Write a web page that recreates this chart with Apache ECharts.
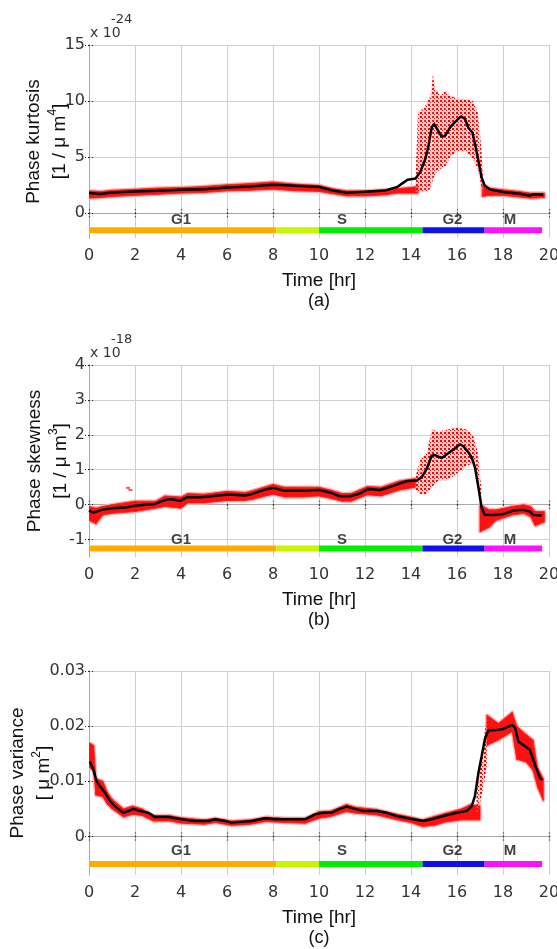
<!DOCTYPE html>
<html>
<head>
<meta charset="utf-8">
<script src="https://cdn.jsdelivr.net/npm/echarts@6/dist/echarts.min.js"></script>
<style>
  html, body { margin: 0; padding: 0; background: #fff; }
  #main { width: 557px; height: 949px; }
</style>
</head>
<body>
<div id="main"></div>
<script>
// cell cycle phases, shared by the three panels
var phaseNames = ['G1', '', 'S', 'G2', 'M'];
var phaseStart = [0, 8.15, 10, 14.5, 17.2];
var phaseEnd = [8.15, 10, 14.5, 17.2, 19.7];
var phaseLabelX = [4, null, 11, 15.8, 18.3];
var phaseColors = ['#ffab00', '#c8f500', '#00ee00', '#1010ee', '#ff10ff'];

// (a) phase kurtosis, in units of 1e-24
var kurtTicks = [0, 5, 10, 15];
var kurtMeanT = [0, 0.5, 1, 2, 3, 4, 5, 6, 7, 8, 9, 10, 10.6, 11.2, 12, 12.9, 13.4, 13.7, 13.85, 14.2, 14.4, 14.6, 14.75, 14.9, 15, 15.14, 15.33, 15.48, 15.7, 15.9, 16.17, 16.35, 16.5, 16.67, 16.78, 16.93, 17.07, 17.2, 17.43, 18, 18.75, 19.17, 19.3, 19.75];
var kurtMean = [1.8, 1.72, 1.85, 1.95, 2.0, 2.1, 2.15, 2.3, 2.4, 2.55, 2.45, 2.34, 2.04, 1.83, 1.92, 2.04, 2.34, 2.78, 3.0, 3.1, 3.67, 4.7, 5.9, 7.66, 7.96, 7.5, 6.83, 6.9, 7.66, 8.1, 8.64, 8.4, 7.6, 7.2, 6.2, 4.7, 3.2, 2.49, 2.13, 1.9, 1.75, 1.57, 1.69, 1.66];
var kurtBandT = [0, 0.5, 1, 2, 3, 4, 5, 6, 7, 8, 9, 10, 10.6, 11.2, 12, 12.9, 13.4, 14.0, 14.3, 14.35, 17.1, 17.4, 18, 18.7, 19.2, 19.8];
var kurtBandLo = [1.35, 1.4, 1.5, 1.6, 1.7, 1.8, 1.85, 2.0, 2.05, 2.15, 2.0, 1.95, 1.75, 1.55, 1.55, 1.65, 1.8, 1.8, 1.8, null, 1.5, 1.6, 1.6, 1.45, 1.35, 1.4];
var kurtBandHi = [2.0, 1.95, 2.05, 2.15, 2.25, 2.3, 2.4, 2.55, 2.65, 2.8, 2.6, 2.5, 2.2, 2.0, 2.0, 2.1, 2.2, 2.3, 2.4, null, 2.6, 2.25, 2.1, 1.95, 1.8, 1.8];
var kurtCloudT = [14.2, 14.3, 14.6, 14.85, 14.95, 15.05, 15.3, 15.5, 15.7, 16.0, 16.4, 16.7, 16.9, 17.05, 17.15];
var kurtCloudLo = [1.9, 1.9, 1.9, 2.2, 3.0, 3.5, 4.0, 4.2, 5.0, 5.5, 5.5, 4.8, 4.0, 2.5, 1.6];
var kurtCloudHi = [3.0, 9.0, 9.5, 10.5, 12.4, 11.0, 10.5, 11.0, 10.5, 10.2, 10.2, 10.0, 9.0, 6.0, 2.8];
var kurtOutT = [];
var kurtOut = [];

// (b) phase skewness, in units of 1e-18
var skewTicks = [-1, 0, 1, 2, 3, 4];
var skewMeanT = [0, 0.19, 0.55, 1.0, 1.56, 2, 2.43, 2.87, 3.3, 3.52, 3.96, 4.25, 4.9, 5.62, 6.06, 6.78, 7.07, 7.65, 8.0, 8.5, 9.25, 10, 10.48, 10.9, 11.35, 11.78, 12.14, 12.65, 13.09, 13.52, 13.8, 14.25, 14.46, 14.68, 14.9, 15.04, 15.33, 15.62, 15.9, 16.13, 16.28, 16.49, 16.64, 16.78, 16.93, 17.07, 17.2, 17.58, 18.0, 18.45, 18.88, 19.17, 19.32, 19.68];
var skewMean = [-0.17, -0.23, -0.15, -0.1, -0.08, -0.03, 0, 0.02, 0.13, 0.16, 0.11, 0.21, 0.21, 0.26, 0.29, 0.26, 0.3, 0.43, 0.48, 0.4, 0.4, 0.42, 0.35, 0.24, 0.24, 0.32, 0.45, 0.42, 0.51, 0.61, 0.67, 0.69, 0.78, 1.02, 1.4, 1.42, 1.33, 1.47, 1.61, 1.73, 1.67, 1.5, 1.35, 1.07, 0.5, -0.08, -0.29, -0.3, -0.27, -0.17, -0.15, -0.2, -0.3, -0.31];
var skewBandT = [0, 0.3, 0.6, 1, 2, 2.9, 3.3, 4.0, 4.3, 5, 6, 6.8, 7.1, 8, 8.5, 9.25, 10, 10.5, 11, 11.4, 12.1, 12.7, 13.5, 14.2, 14.3, 17.0, 17.4, 17.7, 18.4, 18.9, 19.2, 19.4, 19.8];
var skewBandLo = [-0.45, -0.55, -0.3, -0.25, -0.2, -0.1, -0.05, -0.1, 0.05, 0.05, 0.12, 0.12, 0.15, 0.3, 0.22, 0.22, 0.25, 0.18, 0.1, 0.1, 0.28, 0.25, 0.42, 0.5, null, -0.78, -0.65, -0.45, -0.3, -0.25, -0.35, -0.6, -0.5];
var skewBandHi = [-0.05, -0.1, -0.05, 0.0, 0.1, 0.1, 0.25, 0.22, 0.32, 0.3, 0.38, 0.35, 0.4, 0.58, 0.5, 0.5, 0.5, 0.42, 0.32, 0.32, 0.52, 0.5, 0.68, 0.75, null, 0.0, -0.15, -0.15, -0.05, 0.0, -0.05, -0.2, -0.2];
var skewCloudT = [14.2, 14.4, 14.7, 14.9, 15.2, 15.6, 16.0, 16.4, 16.7, 16.9, 17.05];
var skewCloudLo = [0.4, 0.3, 0.3, 0.5, 0.7, 0.7, 0.9, 1.1, 1.2, 0.8, -0.2];
var skewCloudHi = [0.8, 1.3, 1.5, 2.15, 2.1, 2.15, 2.2, 2.15, 2.0, 1.5, 0.5];
var skewOutT = [1.7, 1.8];
var skewOut = [0.48, 0.42];

// (c) phase variance, um^2
var varTicks = [0, 0.01, 0.02, 0.03];
var varMeanT = [0.04, 0.19, 0.33, 0.48, 0.7, 0.91, 1.2, 1.49, 1.71, 1.93, 2.22, 2.58, 2.87, 3.45, 4.03, 4.61, 5.19, 5.48, 5.91, 6.2, 7.07, 7.65, 8.09, 8.81, 9.39, 9.83, 10.19, 10.55, 10.9, 11.2, 11.57, 11.93, 12.5, 12.94, 13.38, 13.96, 14.54, 14.97, 15.4, 15.99, 16.42, 16.64, 16.78, 16.93, 17.07, 17.22, 17.36, 17.72, 18.01, 18.38, 18.52, 18.67, 18.88, 19.17, 19.39, 19.61, 19.72];
var varMean = [0.0136, 0.0121, 0.0100, 0.0091, 0.0079, 0.0064, 0.0052, 0.0043, 0.0046, 0.0050, 0.0046, 0.0043, 0.0035, 0.0035, 0.0031, 0.0028, 0.0028, 0.0031, 0.0028, 0.0025, 0.0028, 0.0033, 0.0031, 0.0031, 0.0031, 0.0040, 0.0043, 0.0043, 0.0050, 0.0054, 0.0050, 0.0046, 0.0046, 0.0043, 0.0037, 0.0032, 0.0028, 0.0032, 0.0037, 0.0043, 0.0046, 0.0055, 0.0073, 0.0115, 0.0145, 0.0178, 0.0192, 0.0193, 0.0195, 0.0202, 0.0198, 0.0172, 0.0166, 0.0157, 0.0130, 0.0106, 0.0102];
var varBandT = [0, 0.2, 0.3, 0.6, 0.8, 1.0, 1.5, 1.9, 2.3, 2.8, 3.5, 4.0, 5.0, 5.5, 6.2, 7.0, 7.7, 8.5, 9.4, 10, 10.5, 11.2, 11.6, 12.5, 13.4, 14, 14.5, 15, 15.5, 16.2, 16.6, 17.0, 17.05, 17.3, 17.8, 18.4, 18.6, 19.0, 19.3, 19.5, 19.75];
var varBandLo = [0.0125, 0.012, 0.0075, 0.0072, 0.0058, 0.005, 0.0035, 0.004, 0.0038, 0.0028, 0.0028, 0.0024, 0.0022, 0.0025, 0.002, 0.0022, 0.0027, 0.0025, 0.0024, 0.0033, 0.0036, 0.0045, 0.0042, 0.0039, 0.003, 0.0025, 0.0018, 0.002, 0.0026, 0.003, 0.003, 0.003, null, 0.0165, 0.0175, 0.019, 0.014, 0.0135, 0.012, 0.009, 0.0065];
var varBandHi = [0.017, 0.0165, 0.0105, 0.01, 0.008, 0.0068, 0.005, 0.0055, 0.005, 0.0038, 0.0038, 0.0034, 0.003, 0.0033, 0.0028, 0.003, 0.0035, 0.0033, 0.0033, 0.0045, 0.0046, 0.0058, 0.0053, 0.0049, 0.004, 0.0035, 0.003, 0.0036, 0.0042, 0.005, 0.0058, 0.0055, null, 0.022, 0.0205, 0.0225, 0.02, 0.0185, 0.0175, 0.0125, 0.0105];
var varCloudT = [16.85, 17.0, 17.15, 17.3];
var varCloudLo = [0.004, 0.006, 0.009, 0.013];
var varCloudHi = [0.007, 0.013, 0.017, 0.022];
var varOutT = [];
var varOut = [];

var narrow = "'DejaVu Sans',sans-serif";
var sans = "'Liberation Sans',Arial,sans-serif";

var panels = [
  { top: 45, height: 193, min: -2.2, max: 15, ticks: kurtTicks, barY: -1.5, labelY: -0.55,
    title: 'Phase kurtosis', unit: '[1 / \u03bc m', sup: '4', unitEnd: ']', nameGap: 16, exp: '-24', tag: '(a)',
    meanT: kurtMeanT, mean: kurtMean, bandT: kurtBandT, lo: kurtBandLo, hi: kurtBandHi,
    cloudT: kurtCloudT, cloudLo: kurtCloudLo, cloudHi: kurtCloudHi, outT: kurtOutT, out: kurtOut },
  { top: 365, height: 192, min: -1.5, max: 4, ticks: skewTicks, barY: -1.26, labelY: -1.02,
    title: 'Phase skewness', unit: '[1 / \u03bc m', sup: '3', unitEnd: ']', nameGap: 15, exp: '-18', tag: '(b)',
    meanT: skewMeanT, mean: skewMean, bandT: skewBandT, lo: skewBandLo, hi: skewBandHi,
    cloudT: skewCloudT, cloudLo: skewCloudLo, cloudHi: skewCloudHi, outT: skewOutT, out: skewOut },
  { top: 671, height: 204, min: -0.007, max: 0.03, ticks: varTicks, barY: -0.005, labelY: -0.0027,
    title: 'Phase variance', unit: '[ \u03bc m', sup: '2', unitEnd: ']', nameGap: 32, exp: null, tag: '(c)',
    meanT: varMeanT, mean: varMean, bandT: varBandT, lo: varBandLo, hi: varBandHi,
    cloudT: varCloudT, cloudLo: varCloudLo, cloudHi: varCloudHi, outT: varOutT, out: varOut }
];

function pairs(xs, ys) {
  return xs.map(function (x, i) { return [x, ys[i]]; });
}
// one row per strip between two neighbouring samples: [t0, lo0, hi0, t1, lo1, hi1]
function strips(xs, lo, hi) {
  var rows = [];
  for (var i = 0; i < xs.length - 1; i++) {
    if (lo[i] == null || lo[i + 1] == null) continue;
    rows.push([xs[i], lo[i], hi[i], xs[i + 1], lo[i + 1], hi[i + 1]]);
  }
  return rows;
}

// dotted texture for the sparse part of the point cloud
function dotPattern() {
  var c = document.createElement('canvas');
  c.width = 4; c.height = 4;
  var g = c.getContext('2d');
  g.fillStyle = 'rgba(255,160,160,0.45)';
  g.fillRect(0, 0, 4, 4);
  g.fillStyle = '#ff0000';
  g.fillRect(0, 0, 2, 2);
  g.fillRect(2, 2, 1, 1);
  return c;
}
var dots = dotPattern();

function bandRenderer(fill, stroke, width) {
  return function (params, api) {
    var a = api.coord([api.value(0), api.value(1)]);
    var b = api.coord([api.value(3), api.value(4)]);
    var c = api.coord([api.value(3), api.value(5)]);
    var d = api.coord([api.value(0), api.value(2)]);
    return {
      type: 'polygon',
      shape: { points: [a, b, c, d] },
      style: { fill: fill, stroke: stroke, lineWidth: stroke ? width : 0, lineJoin: 'round' }
    };
  };
}

var grids = [], xAxes = [], yAxes = [], series = [], graphics = [];

panels.forEach(function (p, i) {
  grids.push({ left: 89, top: p.top, width: 460, height: p.height, outerBoundsMode: 'none', containLabel: false });

  var tickStyle = { show: true, inside: true, length: 4, lineStyle: { color: '#222', type: [1, 2], width: 1.2 } };
  var lineStyle = { show: true, lineStyle: { color: '#a8a8a8', width: 1 } };
  var tickFont = { fontFamily: narrow, fontSize: 16, color: '#333' };

  xAxes.push({
    type: 'value', gridIndex: i, min: 0, max: 20, interval: 2, position: 'bottom',
    axisLine: lineStyle, axisTick: tickStyle,
    splitLine: { show: true, lineStyle: { color: '#cfcfcf', width: 1 } },
    axisLabel: Object.assign({ margin: 10 }, tickFont),
    name: '{t|Time [hr]}\n{c|' + p.tag + '}', nameLocation: 'middle', nameGap: 32, nameMoveOverlap: false,
    nameTextStyle: {
      verticalAlign: 'top',
      rich: {
        t: { fontFamily: sans, fontSize: 19, color: '#111', lineHeight: 21 },
        c: { fontFamily: sans, fontSize: 18, color: '#111', lineHeight: 21 }
      }
    }
  });
  xAxes.push({
    type: 'value', gridIndex: i, min: 0, max: 20, interval: 2, position: 'top',
    axisLine: lineStyle, axisTick: tickStyle, axisLabel: { show: false }, splitLine: { show: false }
  });

  yAxes.push({
    type: 'value', gridIndex: i, min: p.min, max: p.max, position: 'left',
    axisLine: lineStyle,
    axisTick: Object.assign({ customValues: p.ticks }, tickStyle),
    splitLine: { show: true, lineStyle: { color: '#cfcfcf', width: 1 } },
    axisLabel: Object.assign({ customValues: p.ticks, margin: 4,
      formatter: function (v) { return String(v); } }, tickFont),
    name: '{n|' + p.title + '}\n{n|' + p.unit + '}{s|' + p.sup + '}{n|' + p.unitEnd + '}',
    nameLocation: 'middle', nameRotate: 90, nameGap: p.nameGap, nameMoveOverlap: false,
    nameTextStyle: {
      rich: {
        n: { fontFamily: sans, fontSize: 19, color: '#111', lineHeight: 26 },
        s: { fontFamily: sans, fontSize: 12, color: '#111', lineHeight: 14, verticalAlign: 'top' }
      }
    }
  });
  yAxes.push({
    type: 'value', gridIndex: i, min: p.min, max: p.max, position: 'right',
    axisLine: lineStyle,
    axisTick: Object.assign({ customValues: p.ticks }, tickStyle),
    axisLabel: { show: false }, splitLine: { show: false }
  });

  var ax = { xAxisIndex: i * 2, yAxisIndex: i * 2 };
  var enc = { x: [0, 3], y: [1, 2, 4, 5] };
  var bandRows = strips(p.bandT, p.lo, p.hi);

  // pale fringe, then the dense part of the measured points
  series.push(Object.assign({ type: 'custom', data: bandRows, encode: enc, clip: true,
    renderItem: bandRenderer('#ffb4b4', '#ffb4b4', 3.5), silent: true, z: 1 }, ax));
  series.push(Object.assign({ type: 'custom', data: bandRows, encode: enc, clip: true,
    renderItem: bandRenderer('#ff1010', '#ff1010', 0.8), silent: true, z: 2 }, ax));
  // scattered part of the measured points
  series.push(Object.assign({ type: 'custom', data: strips(p.cloudT, p.cloudLo, p.cloudHi), encode: enc, clip: true,
    renderItem: bandRenderer({ type: 'pattern', image: dots, repeat: 'repeat' }, null, 0), silent: true, z: 2 }, ax));
  series.push(Object.assign({ type: 'scatter', data: pairs(p.outT, p.out), symbol: 'rect', symbolSize: [4, 2],
    itemStyle: { color: '#ff3030' }, z: 2 }, ax));

  // moving average
  series.push(Object.assign({ type: 'line', data: pairs(p.meanT, p.mean), symbol: 'none',
    lineStyle: { color: '#000', width: 2.5 }, z: 3 }, ax));

  // phase bars and labels
  phaseStart.forEach(function (s, k) {
    series.push(Object.assign({ type: 'line', data: [[s, p.barY], [phaseEnd[k], p.barY]], symbol: 'none',
      lineStyle: { color: phaseColors[k], width: 6, cap: 'butt' }, z: 4 }, ax));
  });
  var labels = [];
  phaseNames.forEach(function (n, k) {
    if (n) labels.push({ name: n, value: [phaseLabelX[k], p.labelY] });
  });
  series.push(Object.assign({ type: 'scatter', data: labels, symbolSize: 0.1, itemStyle: { color: 'transparent' },
    label: { show: true, position: 'inside', formatter: '{b}', fontFamily: sans, fontWeight: 'bold', fontSize: 15, color: '#111' },
    z: 5 }, ax));

  if (p.exp) {
    graphics.push({ type: 'text', left: 90, top: p.top - 19, style: { text: 'x 10', fontFamily: narrow, fontSize: 14, fill: '#333' } });
    graphics.push({ type: 'text', left: 111, top: p.top - 32, style: { text: p.exp, fontFamily: narrow, fontSize: 13, fill: '#333' } });
  }
});

var chart = echarts.init(document.getElementById('main'), null, { renderer: 'canvas' });
chart.setOption({
  animation: false,
  backgroundColor: '#fff',
  grid: grids,
  xAxis: xAxes,
  yAxis: yAxes,
  series: series,
  graphic: graphics
});
</script>
</body>
</html>
